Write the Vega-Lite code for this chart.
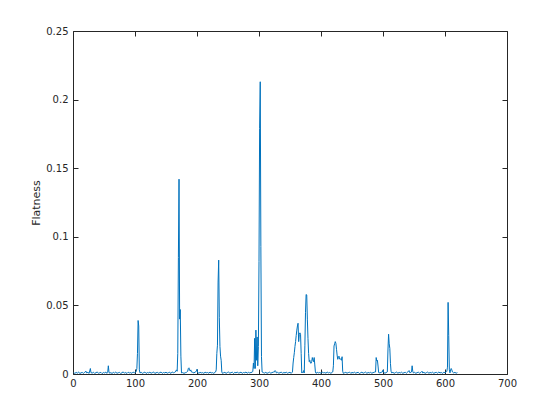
{
  "$schema": "https://vega.github.io/schema/vega-lite/v6.json",
  "autosize": {"type": "none"},
  "padding": {"left": 73, "top": 31, "right": 53, "bottom": 46},
  "width": 434,
  "height": 343,
  "background": "white",
  "view": {"stroke": null},
  "config": {
    "axis": {
      "domainColor": "#262626",
      "domainWidth": 1,
      "tickColor": "#262626",
      "tickSize": -5,
      "tickWidth": 1,
      "grid": false,
      "labelFlush": false,
      "labelColor": "#262626",
      "labelFont": "DejaVu Sans",
      "labelFontSize": 10,
      "titleColor": "#262626",
      "titleFont": "DejaVu Sans",
      "titleFontSize": 11,
      "titleFontWeight": "normal"
    }
  },
  "data": {"values": [
    {"x":1,"y":0.001},{"x":3,"y":0.0004},{"x":5,"y":0.0012},{"x":7,"y":0.0006},{"x":9,"y":0.0015},{"x":11,"y":0.0003},{"x":13,"y":0.0009},{"x":15,"y":0.0011},{"x":17,"y":0.0005},{"x":19,"y":0.0013},{"x":21,"y":0.002},{"x":22,"y":0.0008},{"x":24,"y":0.0012},{"x":26,"y":0.0005},{"x":27,"y":0.0022},{"x":28,"y":0.004},{"x":29,"y":0.001},{"x":31,"y":0.0007},{"x":33,"y":0.0013},{"x":35,"y":0.0004},{"x":37,"y":0.001},{"x":39,"y":0.0014},{"x":41,"y":0.0006},{"x":43,"y":0.0009},{"x":45,"y":0.0012},{"x":47,"y":0.0003},{"x":49,"y":0.0011},{"x":51,"y":0.0008},{"x":53,"y":0.0013},{"x":55,"y":0.0005},{"x":56,"y":0.0012},{"x":57,"y":0.006},{"x":58,"y":0.0015},{"x":59,"y":0.0006},{"x":61,"y":0.001},{"x":63,"y":0.0004},{"x":65,"y":0.0012},{"x":67,"y":0.0007},{"x":69,"y":0.0014},{"x":71,"y":0.0005},{"x":73,"y":0.0009},{"x":75,"y":0.0012},{"x":77,"y":0.0003},{"x":79,"y":0.001},{"x":81,"y":0.0015},{"x":83,"y":0.0006},{"x":85,"y":0.0011},{"x":87,"y":0.0004},{"x":89,"y":0.0013},{"x":91,"y":0.0008},{"x":93,"y":0.001},{"x":95,"y":0.0005},{"x":97,"y":0.0014},{"x":99,"y":0.0009},
    {"x":101,"y":0.0012},{"x":102,"y":0.002},{"x":103,"y":0.004},{"x":104,"y":0.015},{"x":105,"y":0.039},{"x":106,"y":0.035},{"x":107,"y":0.003},{"x":108,"y":0.0008},{"x":110,"y":0.0012},{"x":112,"y":0.0005},{"x":114,"y":0.001},{"x":116,"y":0.0014},{"x":118,"y":0.0004},{"x":120,"y":0.0011},{"x":122,"y":0.0008},{"x":124,"y":0.0013},{"x":126,"y":0.0006},{"x":128,"y":0.001},{"x":130,"y":0.0015},{"x":132,"y":0.0004},{"x":134,"y":0.0009},{"x":136,"y":0.0012},{"x":138,"y":0.0006},{"x":140,"y":0.001},{"x":142,"y":0.0014},{"x":144,"y":0.0005},{"x":146,"y":0.0011},{"x":148,"y":0.0008},{"x":150,"y":0.0013},{"x":152,"y":0.0006},{"x":154,"y":0.001},{"x":156,"y":0.0012},{"x":158,"y":0.0004},{"x":160,"y":0.0015},{"x":162,"y":0.0009},{"x":164,"y":0.0012},
    {"x":165,"y":0.0015},{"x":167,"y":0.003},{"x":168,"y":0.002},{"x":169,"y":0.015},{"x":170,"y":0.085},{"x":171,"y":0.142},{"x":172,"y":0.04},{"x":173,"y":0.047},{"x":174,"y":0.013},{"x":175,"y":0.0008},{"x":177,"y":0.001},{"x":179,"y":0.0005},{"x":181,"y":0.0009},{"x":183,"y":0.0012},{"x":185,"y":0.002},{"x":186,"y":0.004},{"x":187,"y":0.0045},{"x":188,"y":0.003},{"x":189,"y":0.0022},{"x":190,"y":0.003},{"x":191,"y":0.0015},{"x":193,"y":0.0012},{"x":195,"y":0.0008},{"x":197,"y":0.0014},{"x":199,"y":0.002},{"x":200,"y":0.0035},{"x":201,"y":0.001},{"x":203,"y":0.0006},{"x":205,"y":0.0012},{"x":207,"y":0.0008},{"x":209,"y":0.001},{"x":211,"y":0.0005},{"x":213,"y":0.0013},{"x":215,"y":0.0009},{"x":217,"y":0.0011},{"x":219,"y":0.0006},{"x":221,"y":0.0014},{"x":223,"y":0.0008},{"x":225,"y":0.001},{"x":227,"y":0.0005},{"x":229,"y":0.0012},
    {"x":230,"y":0.0015},{"x":231,"y":0.003},{"x":232,"y":0.015},{"x":233,"y":0.021},{"x":234,"y":0.067},{"x":235,"y":0.083},{"x":236,"y":0.041},{"x":237,"y":0.02},{"x":238,"y":0.013},{"x":239,"y":0.01},{"x":240,"y":0.0015},{"x":241,"y":0.0005},{"x":243,"y":0.0009},{"x":245,"y":0.0012},{"x":247,"y":0.0005},{"x":249,"y":0.0011},{"x":251,"y":0.0014},{"x":253,"y":0.0006},{"x":255,"y":0.001},{"x":257,"y":0.0013},{"x":259,"y":0.0004},{"x":261,"y":0.0012},{"x":263,"y":0.0008},{"x":265,"y":0.0015},{"x":267,"y":0.0006},{"x":269,"y":0.001},{"x":271,"y":0.0013},{"x":273,"y":0.0005},{"x":275,"y":0.0011},{"x":277,"y":0.0009},{"x":279,"y":0.0014},{"x":281,"y":0.0006},{"x":283,"y":0.0012},{"x":285,"y":0.0008},{"x":287,"y":0.0011},{"x":289,"y":0.0013},
    {"x":290,"y":0.002},{"x":291,"y":0.008},{"x":292,"y":0.004},{"x":293,"y":0.026},{"x":294,"y":0.004},{"x":295,"y":0.032},{"x":296,"y":0.01},{"x":297,"y":0.027},{"x":298,"y":0.006},{"x":299,"y":0.02},{"x":300,"y":0.082},{"x":301,"y":0.179},{"x":302,"y":0.213},{"x":303,"y":0.093},{"x":304,"y":0.0126},{"x":305,"y":0.0015},{"x":307,"y":0.001},{"x":309,"y":0.0007},{"x":311,"y":0.0012},{"x":313,"y":0.0005},{"x":315,"y":0.0009},{"x":317,"y":0.0013},{"x":319,"y":0.0006},{"x":321,"y":0.001},{"x":323,"y":0.0014},{"x":325,"y":0.0015},{"x":326,"y":0.0025},{"x":327,"y":0.002},{"x":328,"y":0.0008},{"x":330,"y":0.0012},{"x":332,"y":0.0006},{"x":334,"y":0.001},{"x":336,"y":0.0014},{"x":338,"y":0.0005},{"x":340,"y":0.0011},{"x":342,"y":0.0008},{"x":344,"y":0.0013},{"x":346,"y":0.0006},{"x":348,"y":0.001},{"x":350,"y":0.0012},{"x":352,"y":0.0005},{"x":354,"y":0.0015},
    {"x":355,"y":0.008},{"x":356,"y":0.012},{"x":357,"y":0.0155},{"x":358,"y":0.02},{"x":359,"y":0.0236},{"x":360,"y":0.028},{"x":361,"y":0.032},{"x":362,"y":0.035},{"x":363,"y":0.037},{"x":364,"y":0.0236},{"x":365,"y":0.029},{"x":366,"y":0.03},{"x":367,"y":0.029},{"x":368,"y":0.015},{"x":369,"y":0.0008},{"x":370,"y":0.0015},{"x":371,"y":0.001},{"x":372,"y":0.0025},{"x":373,"y":0.0008},{"x":374,"y":0.021},{"x":375,"y":0.045},{"x":376,"y":0.058},{"x":377,"y":0.0576},{"x":378,"y":0.04},{"x":379,"y":0.026},{"x":380,"y":0.015},{"x":381,"y":0.009},{"x":382,"y":0.01},{"x":383,"y":0.008},{"x":384,"y":0.0078},{"x":385,"y":0.009},{"x":386,"y":0.012},{"x":387,"y":0.01},{"x":388,"y":0.009},{"x":389,"y":0.012},{"x":390,"y":0.0066},{"x":391,"y":0.0015},{"x":392,"y":0.0005},{"x":394,"y":0.0012},{"x":396,"y":0.0008},{"x":398,"y":0.0011},{"x":400,"y":0.0005},{"x":402,"y":0.0013},{"x":404,"y":0.0009},{"x":406,"y":0.001},{"x":408,"y":0.0006},{"x":410,"y":0.0014},{"x":412,"y":0.0008},{"x":414,"y":0.0011},{"x":416,"y":0.0005},{"x":418,"y":0.0012},
    {"x":419,"y":0.0015},{"x":420,"y":0.006},{"x":421,"y":0.0204},{"x":422,"y":0.022},{"x":423,"y":0.0236},{"x":424,"y":0.0224},{"x":425,"y":0.018},{"x":426,"y":0.0138},{"x":427,"y":0.0107},{"x":428,"y":0.012},{"x":429,"y":0.013},{"x":430,"y":0.011},{"x":431,"y":0.0107},{"x":432,"y":0.0112},{"x":433,"y":0.01},{"x":434,"y":0.0126},{"x":435,"y":0.002},{"x":436,"y":0.0005},{"x":438,"y":0.0009},{"x":440,"y":0.0012},{"x":442,"y":0.0006},{"x":444,"y":0.001},{"x":446,"y":0.0014},{"x":448,"y":0.0005},{"x":450,"y":0.0011},{"x":452,"y":0.0008},{"x":454,"y":0.0013},{"x":456,"y":0.0006},{"x":458,"y":0.001},{"x":460,"y":0.0012},{"x":462,"y":0.0004},{"x":464,"y":0.0009},{"x":466,"y":0.0013},{"x":468,"y":0.0006},{"x":470,"y":0.001},{"x":472,"y":0.0014},{"x":474,"y":0.0005},{"x":476,"y":0.0011},{"x":478,"y":0.0008},{"x":480,"y":0.0012},{"x":482,"y":0.0006},{"x":484,"y":0.001},{"x":486,"y":0.0013},{"x":488,"y":0.0015},
    {"x":489,"y":0.012},{"x":490,"y":0.0095},{"x":491,"y":0.01},{"x":492,"y":0.0058},{"x":493,"y":0.001},{"x":495,"y":0.0008},{"x":497,"y":0.0012},{"x":499,"y":0.0015},{"x":500,"y":0.003},{"x":501,"y":0.0012},{"x":503,"y":0.0006},{"x":505,"y":0.001},{"x":507,"y":0.0015},{"x":508,"y":0.0175},{"x":509,"y":0.029},{"x":510,"y":0.022},{"x":511,"y":0.0187},{"x":512,"y":0.0078},{"x":513,"y":0.002},{"x":514,"y":0.0008},{"x":516,"y":0.0012},{"x":518,"y":0.0005},{"x":520,"y":0.001},{"x":522,"y":0.0014},{"x":524,"y":0.0006},{"x":526,"y":0.0011},{"x":528,"y":0.0008},{"x":530,"y":0.0013},{"x":532,"y":0.0005},{"x":534,"y":0.001},{"x":536,"y":0.0012},{"x":538,"y":0.0006},{"x":540,"y":0.0015},{"x":542,"y":0.0025},{"x":543,"y":0.001},{"x":545,"y":0.0012},{"x":546,"y":0.0015},{"x":547,"y":0.006},{"x":548,"y":0.002},{"x":549,"y":0.0008},{"x":551,"y":0.0012},{"x":553,"y":0.0005},{"x":555,"y":0.001},{"x":557,"y":0.0013},{"x":559,"y":0.0006},{"x":561,"y":0.0011},{"x":563,"y":0.002},{"x":564,"y":0.0008},{"x":566,"y":0.0012},{"x":568,"y":0.0005},{"x":570,"y":0.001},{"x":572,"y":0.0014},{"x":574,"y":0.0006},{"x":576,"y":0.0011},{"x":578,"y":0.0008},{"x":580,"y":0.0013},{"x":582,"y":0.0005},{"x":584,"y":0.001},{"x":586,"y":0.0012},{"x":588,"y":0.0006},{"x":590,"y":0.0014},{"x":592,"y":0.0008},{"x":594,"y":0.0011},{"x":596,"y":0.0005},{"x":598,"y":0.0012},{"x":600,"y":0.0009},{"x":602,"y":0.0015},
    {"x":603,"y":0.002},{"x":604,"y":0.005},{"x":605,"y":0.0522},{"x":606,"y":0.028},{"x":607,"y":0.003},{"x":608,"y":0.0008},{"x":609,"y":0.003},{"x":610,"y":0.004},{"x":611,"y":0.003},{"x":612,"y":0.0015},{"x":614,"y":0.0008},{"x":616,"y":0.0012},{"x":618,"y":0.0006},{"x":620,"y":0.001}
  ]},
  "layer": [
    {
      "mark": {"type": "line", "color": "#0072BD", "strokeWidth": 1, "clip": true},
      "encoding": {
        "x": {"field": "x", "type": "quantitative",
              "scale": {"domain": [0, 700], "nice": false, "zero": false},
              "axis": {"orient": "bottom", "values": [0,100,200,300,400,500,600,700], "title": null, "labelPadding": 9, "format": "d"}},
        "y": {"field": "y", "type": "quantitative",
              "scale": {"domain": [0, 0.25], "nice": false, "zero": false},
              "axis": {"orient": "left", "values": [0,0.05,0.1,0.15,0.2,0.25], "format": "~g", "title": "Flatness", "labelPadding": 10, "titleBaseline": "alphabetic", "titleAngle": -90, "titleX": -34, "titleY": 171.5, "titleAnchor": "middle"}}
      }
    },
    {
      "mark": {"type": "line", "opacity": 0},
      "encoding": {
        "x": {"field": "x", "type": "quantitative",
              "axis": {"orient": "top", "values": [0,100,200,300,400,500,600,700], "labels": false, "title": null}},
        "y": {"field": "y", "type": "quantitative",
              "axis": {"orient": "right", "values": [0,0.05,0.1,0.15,0.2,0.25], "labels": false, "title": null}}
      }
    }
  ]
}
